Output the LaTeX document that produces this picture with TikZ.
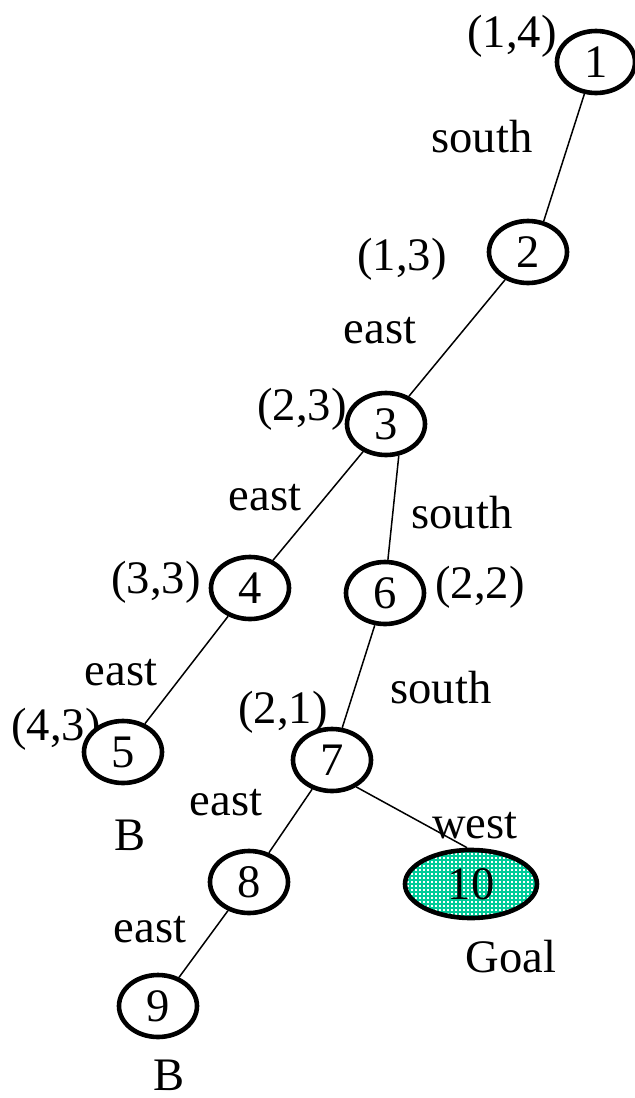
\documentclass[tikz,border=0pt]{standalone}
\usepackage{fontspec}
\setmainfont{Liberation Serif}
\usetikzlibrary{shapes.geometric,patterns.meta}
\definecolor{goalgreen}{RGB}{0,204,153}
\tikzdeclarepattern{
  name=gdots,
  type=uncolored,
  bounding box={(-1pt,-1pt) and (1pt,1pt)},
  tile size={(2pt,2pt)},
  code={\fill (-0.45pt,-0.45pt) rectangle (0.45pt,0.45pt);}
}
\begin{document}
\begin{tikzpicture}[x=0.5pt,y=-0.5pt,
  lab/.style={anchor=base,inner sep=0pt,font=\fontsize{23.3}{28}\selectfont},
  st/.style={ellipse,draw=black,line width=2.3pt,fill=white,minimum width=39pt,minimum height=31pt,inner sep=0pt,font=\fontsize{23.3}{28}\selectfont},
  goal/.style={st,minimum width=66pt,minimum height=34pt,preaction={fill=goalgreen},pattern=gdots,pattern color=white},
  edge/.style={line width=0.75pt,black}]
\useasboundingbox (0,0) rectangle (634,1098);
% labels
\node[lab] (l14) at (512,47) {(1,4)};
\node[lab] (s1) at (482,152) {south};
\node[lab] (l13) at (402,270) {(1,3)};
\node[lab] (e1) at (380,343) {east};
\node[lab] (l23) at (302,420) {(2,3)};
\node[lab] (e2) at (265,510) {east};
\node[lab] (s2) at (462,528) {south};
\node[lab] (l33) at (156,593) {(3,3)};
\node[lab] (l22) at (480,598) {(2,2)};
\node[lab] (e3) at (121,685) {east};
\node[lab] (s3) at (441,703) {south};
\node[lab] (l43) at (56,740) {(4,3)};
\node[lab] (l21) at (283,723) {(2,1)};
\node[lab] (b1) at (130,850) {B};
\node[lab] (e4) at (226,815) {east};
\node[lab] (w1) at (475,838) {west};
\node[lab] (e5) at (150,942) {east};
\node[lab] (goaltxt) at (511,972) {Goal};
\node[lab] (b2) at (169,1090) {B};
% states
\node[st] (n1) at (596,62) {1};
\node[st] (n2) at (528,252) {2};
\node[st] (n3) at (386,424) {3};
\node[st] (n4) at (250,588) {4};
\node[st] (n6) at (385,593) {6};
\node[st] (n5) at (123,752) {5};
\node[st] (n7) at (332,760) {7};
\node[st] (n8) at (249,882) {8};
\node[st] (n9) at (158,1006) {9};
\node[goal] (n10) at (471,884) {10};
% edges
\draw[edge] (n1.250) -- (n2.63);
\draw[edge] (n2) -- (n3);
\draw[edge] (n3) -- (n4);
\draw[edge] (n3.292) -- (n6.85);
\draw[edge] (n4) -- (n5);
\draw[edge] (n6) -- (n7);
\draw[edge] (n7) -- (n8);
\draw[edge] (n7.312) -- (n10.96);
\draw[edge] (n8) -- (n9);
\end{tikzpicture}
\end{document}
